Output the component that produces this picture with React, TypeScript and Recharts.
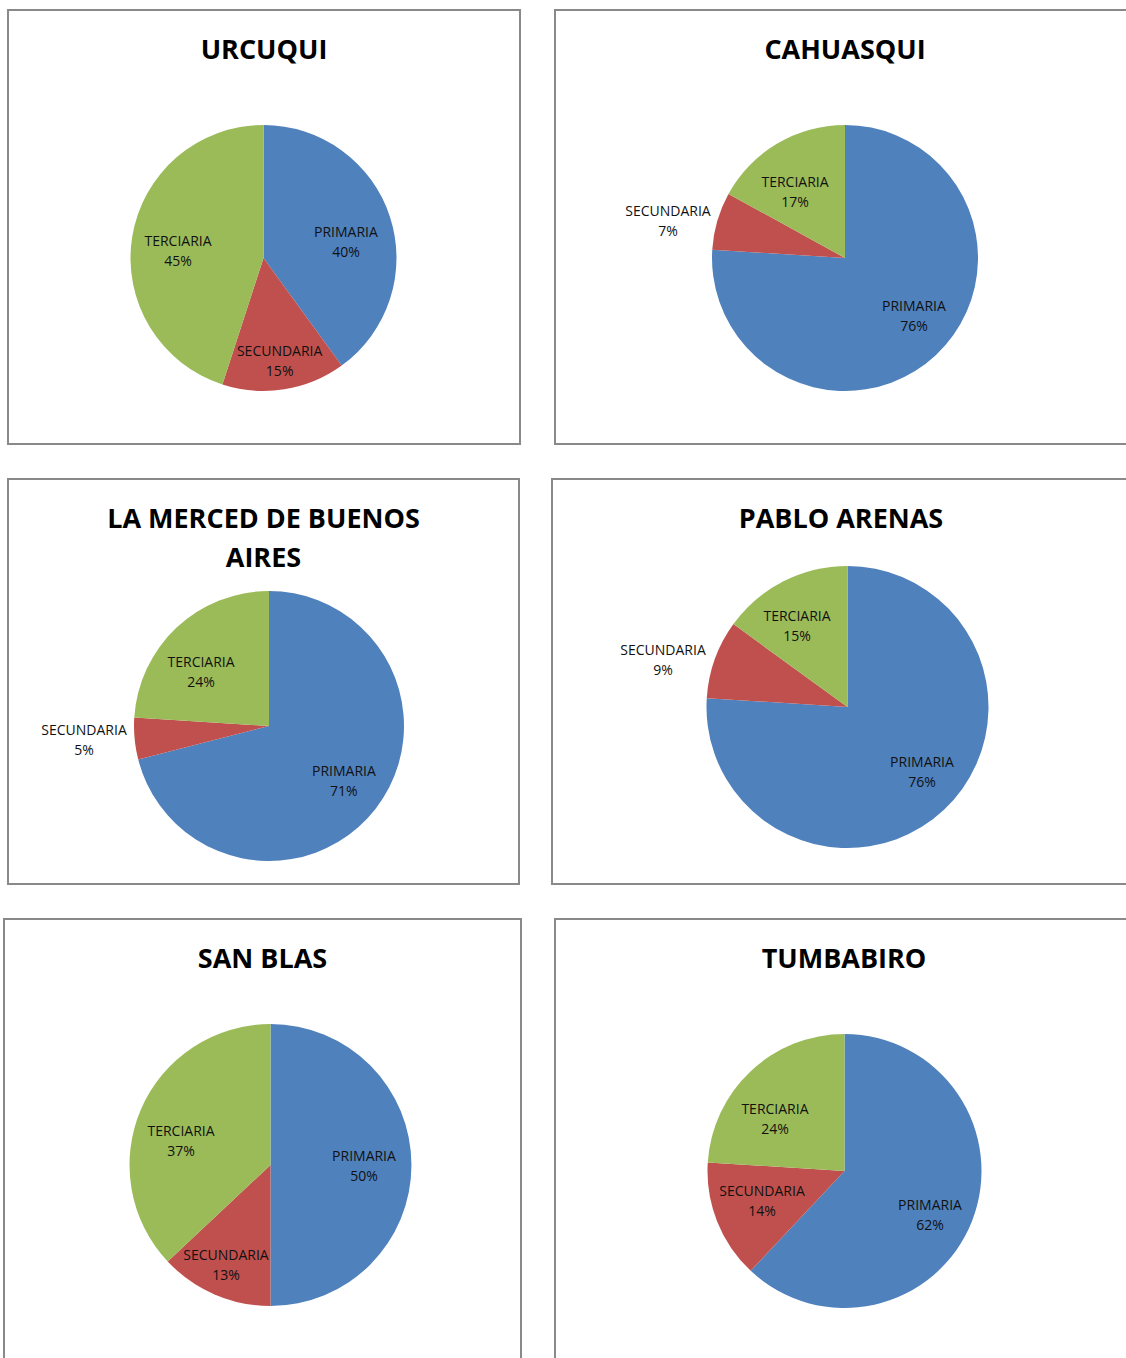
import React from 'react';
import { PieChart, Pie, Cell } from 'recharts';

// niveles de educación
const categories = ['PRIMARIA', 'SECUNDARIA', 'TERCIARIA'];
const colors = ['#4F81BD', '#C0504D', '#9BBB59'];

// porcentajes por parroquia (primaria, secundaria, terciaria)
const urcuqui = [40, 15, 45];
const cahuasqui = [76, 7, 17];
const laMerced = [71, 5, 24];
const pabloArenas = [76, 9, 15];
const sanBlas = [50, 13, 37];
const tumbabiro = [62, 14, 24];

// labelR: distancia de la etiqueta (fracción del radio); labelShift: giro en grados (horario)
const panels = [
  { title: ['URCUQUI'], values: urcuqui, left: 7, top: 9, width: 514, height: 436, cx: 256.5, cy: 249, r: 133, labelR: [0.633, 0.777, 0.645], labelShift: [6.4, 0, -4.3] },
  { title: ['CAHUASQUI'], values: cahuasqui, left: 554, top: 9, width: 582, height: 436, cx: 291, cy: 249, r: 133, labelR: [0.673, 1.361, 0.623], labelShift: [-7.2, -4.1, -6.5] },
  { title: ['LA MERCED DE BUENOS', 'AIRES'], values: laMerced, left: 7, top: 478, width: 513, height: 407, cx: 262, cy: 248, r: 135, labelR: [0.684, 1.374, 0.643], labelShift: [-2, 1.1, -8.3] },
  { title: ['PABLO ARENAS'], values: pabloArenas, left: 551, top: 478, width: 580, height: 407, cx: 296.5, cy: 229, r: 141, labelR: [0.701, 1.35, 0.677], labelShift: [-5.7, -5.5, -4.9] },
  { title: ['SAN BLAS'], values: sanBlas, left: 3, top: 918, width: 519, height: 480, cx: 267.5, cy: 247, r: 141, labelR: [0.663, 0.77, 0.659], labelShift: [0.6, 0.8, -7.8] },
  { title: ['TUMBABIRO'], values: tumbabiro, left: 554, top: 918, width: 580, height: 480, cx: 290.5, cy: 253, r: 137, labelR: [0.702, 0.638, 0.638], labelShift: [5.6, 2.2, -9.5] },
];

const RAD = Math.PI / 180;
const font = '"Open Sans", sans-serif';

const makeLabel = (labelR: number[], labelShift: number[]) => (props: any) => {
  const { cx, cy, midAngle, outerRadius, index, name, value } = props;
  const r = outerRadius * labelR[index];
  const a = (midAngle - labelShift[index]) * RAD;
  const x = cx + r * Math.cos(-a);
  const y = cy + r * Math.sin(-a);
  return (
    <g>
      <text x={x} y={y - 10} textAnchor="middle" dominantBaseline="central" fontSize={14} fontFamily={font} fill="#111">
        {name}
      </text>
      <text x={x} y={y + 10} textAnchor="middle" dominantBaseline="central" fontSize={14} fontFamily={font} fill="#111">
        {value}%
      </text>
    </g>
  );
};

const Panel: React.FC<{ p: typeof panels[number] }> = ({ p }) => {
  const data = categories.map((name, i) => ({ name, value: p.values[i] }));
  return (
    <>
      <div
        style={{
          position: 'absolute', left: p.left, top: p.top, width: p.width, height: p.height,
          border: '2px solid #898989', boxSizing: 'border-box', background: '#fff',
        }}
      />
      <div style={{ position: 'absolute', left: p.left, top: p.top }}>
        <PieChart width={p.width} height={p.height} margin={{ top: 0, right: 0, bottom: 0, left: 0 }}>
          <Pie
            data={data}
            dataKey="value"
            nameKey="name"
            cx={p.cx}
            cy={p.cy}
            outerRadius={p.r}
            startAngle={90}
            endAngle={-270}
            stroke="none"
            labelLine={false}
            label={makeLabel(p.labelR, p.labelShift)}
            isAnimationActive={false}
          >
            {data.map((d, i) => (
              <Cell key={d.name} fill={colors[i]} />
            ))}
          </Pie>
        </PieChart>
      </div>
      <div
        style={{
          position: 'absolute', left: p.left, top: p.top + 20, width: p.width, textAlign: 'center',
          fontFamily: font, fontWeight: 700, fontSize: 27, lineHeight: '39px', color: '#000',
        }}
      >
        {p.title.map(t => <div key={t}>{t}</div>)}
      </div>
    </>
  );
};

const App: React.FC = () => {
  return (
    <div style={{ position: 'absolute', left: 0, top: 0, width: 1126, height: 1358, overflow: 'hidden', background: '#fff' }}>
      {panels.map(p => <Panel key={p.title[0]} p={p} />)}
    </div>
  );
};

export default App;
